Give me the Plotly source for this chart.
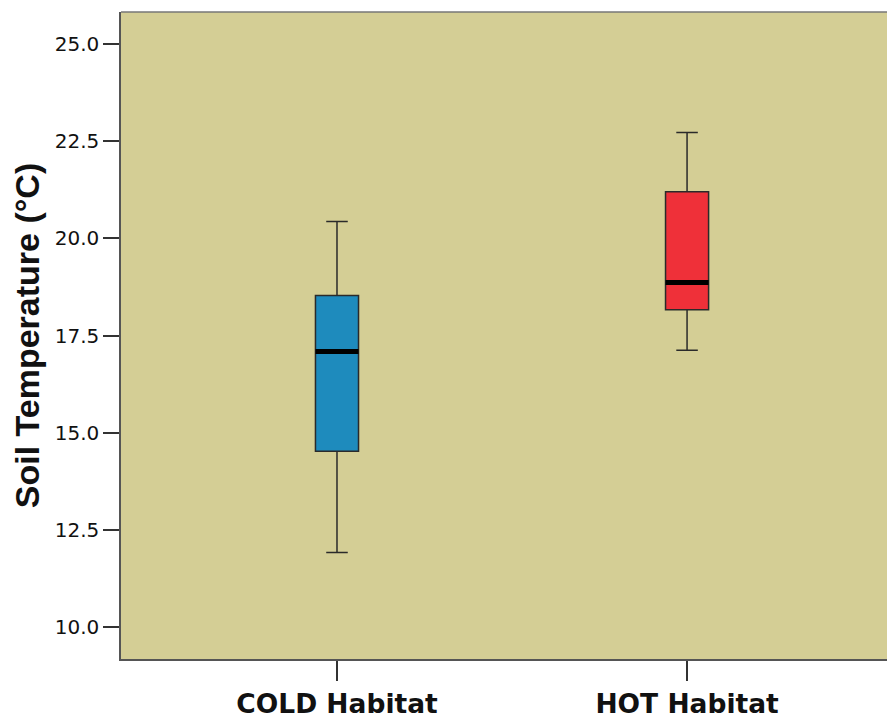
import plotly.graph_objects as go

categories = ["COLD Habitat", "HOT Habitat"]
positions = [0, 1]
lower_whisker = [11.92, 17.12]
q1 = [14.52, 18.16]
median = [17.09, 18.86]
q3 = [18.53, 21.20]
upper_whisker = [20.43, 22.72]
fill_colors = ["#1e8bbd", "#ef3039"]
y_ticks = [10, 12.5, 15, 17.5, 20, 22.5, 25]
y_tick_labels = ["10.0", "12.5", "15.0", "17.5", "20.0", "22.5", "25.0"]

box_width = 0.123

fig = go.Figure()
for i in range(len(categories)):
    fig.add_trace(go.Box(
        x=[positions[i]], q1=[q1[i]], median=[median[i]], q3=[q3[i]],
        lowerfence=[lower_whisker[i]], upperfence=[upper_whisker[i]],
        width=box_width, whiskerwidth=0.5,
        fillcolor=fill_colors[i], line=dict(color="#2a2a2a", width=1.5),
        showlegend=False, hoverinfo="skip",
    ))
    fig.add_trace(go.Scatter(
        x=[positions[i] - box_width / 2, positions[i] + box_width / 2],
        y=[median[i], median[i]], mode="lines",
        line=dict(color="black", width=5), showlegend=False, hoverinfo="skip",
    ))

# page body has an 8px margin, so the figure is sized to fit the window
fig.update_layout(
    width=887, height=712,
    margin=dict(l=113, r=0, t=4, b=61),
    paper_bgcolor="white", plot_bgcolor="#d4ce95",
    font=dict(family="DejaVu Sans", color="#111111"),
    shapes=[dict(type="line", xref="paper", yref="paper", x0=0, x1=1, y0=1, y1=1,
                 line=dict(color="#777777", width=1.5))],
)
fig.update_xaxes(
    range=[-0.617, 1.594], tickvals=positions, ticktext=categories,
    ticks="outside", ticklen=20, tickcolor="#333333", tickwidth=1.5,
    tickfont=dict(size=26.5, family="DejaVu Sans", weight="bold"),
    showline=True, linecolor="#555555", linewidth=1.5,
    showgrid=False, zeroline=False,
)
fig.update_yaxes(
    range=[9.18, 25.82], tickvals=y_ticks, ticktext=y_tick_labels,
    ticks="outside", ticklen=16, tickcolor="#333333", tickwidth=1.5,
    tickfont=dict(size=20, family="DejaVu Sans"),
    showline=True, linecolor="#555555", linewidth=1.5,
    showgrid=False, zeroline=False,
    title=dict(text="Soil Temperature (°C)", standoff=6,
               font=dict(size=34, family="Liberation Sans", weight="bold")),
)
fig.write_html("out.html")
